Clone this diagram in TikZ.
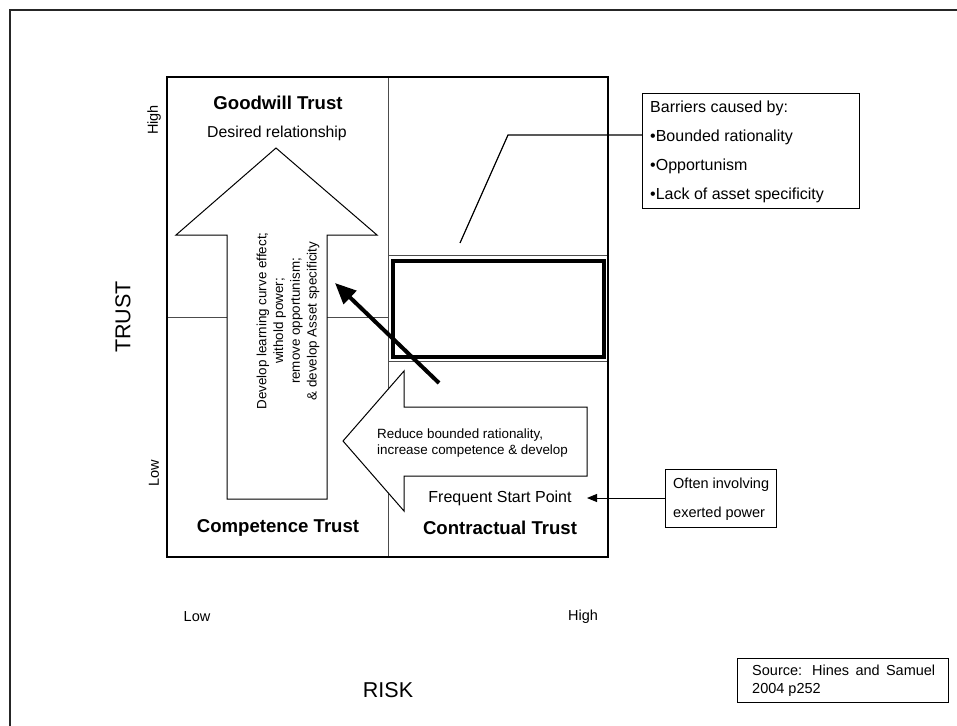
\documentclass[tikz,border=0pt]{standalone}
\usepackage{fontspec}
\setmainfont{Liberation Sans}
\usetikzlibrary{arrows.meta}
\begin{document}
\begin{tikzpicture}[x=1pt,y=-1pt,
  txt/.style={inner sep=0pt},
  small/.style={txt, font=\fontsize{14.5}{17}\selectfont},
  quadtitle/.style={txt, font=\bfseries\fontsize{18.6}{22}\selectfont},
  axislabel/.style={txt, font=\fontsize{21.5}{25}\selectfont},
  advice/.style={txt, font=\fontsize{13.4}{16.7}\selectfont},
  boxed/.style={draw=black, line width=1.1pt, inner sep=0pt},
  bigarrow/.style={draw=black, line width=1pt, fill=white, line join=miter},
  gridline/.style={draw=black!70, line width=1pt},
]
\useasboundingbox (0,0) rectangle (957,725);

% page frame
\draw[line width=2.5pt, black!85] (10,740) -- (10,10) -- (970,10);

% trust / risk matrix
\draw[gridline] (388,77) -- (388,557);
\draw[gridline] (167,317) -- (388,317);
\draw[gridline] (388,255) rectangle (608,361);
\draw[line width=1.3pt] (167,77) rectangle (608,557);
\draw[line width=4pt] (393,261) rectangle (604,357);

% upward block arrow (competence -> goodwill)
\draw[bigarrow] (276,148) -- (377,235) -- (327,235) -- (327,499)
  -- (227,499) -- (227,235) -- (176,235) -- cycle;
% leftward block arrow (contractual -> competence)
\draw[bigarrow] (343,441) -- (404,371) -- (404,407) -- (587,407)
  -- (587,476) -- (404,476) -- (404,511) -- cycle;

% quadrant titles
\node[quadtitle] (goodwill) at (278,103) {Goodwill Trust};
\node[txt, font=\fontsize{15.8}{19}\selectfont] (desired) at (277,133) {Desired relationship};
\node[quadtitle] (competence) at (278,528) {Competence Trust};
\node[quadtitle] (contractual) at (500,528) {Contractual Trust};
\node[txt, font=\fontsize{16}{19}\selectfont] (start) at (500,498) {Frequent Start Point};

% arrow texts
\node[advice, rotate=90, align=center] (develop) at (288,321)
  {Develop learning curve effect;\\withold power;\\remove opportunism;\\\& develop Asset specificity};
\node[advice, align=left, anchor=west] (reduce) at (377,443)
  {Reduce bounded rationality,\\increase competence \& develop};

% axes
\node[axislabel, rotate=90] (trust) at (123,317) {TRUST};
\node[small, rotate=90] (tHigh) at (154,120) {High};
\node[small, rotate=90] (tLow) at (154,473) {Low};
\node[small] (rLow) at (197,617) {Low};
\node[small] (rHigh) at (583,617) {High};
\node[axislabel] (risk) at (388,690) {RISK};

% move towards goodwill trust
\coordinate (pushFrom) at (439,383);
\coordinate (pushTo) at (335,283);
\draw[line width=4pt, -{Triangle[length=21pt,width=18pt]}] (pushFrom) -- (pushTo);

% barriers call-out
\node[boxed, anchor=north west, minimum width=217pt, minimum height=115pt] (barriers) at (642,93) {};
\node[txt, anchor=west, align=left, font=\fontsize{16}{29.2}\selectfont] (barrierText) at (650,152)
  {Barriers caused by:\\\textbullet Bounded rationality\\\textbullet Opportunism\\\textbullet Lack of asset specificity};
\coordinate (barrierFoot) at (460,243);
\coordinate (barrierBend) at (508,135);
\draw[line width=1.2pt] (barrierFoot) -- (barrierBend) -- (barrierBend -| barriers.west);

% power call-out
\node[boxed, anchor=north west, minimum width=111pt, minimum height=58pt] (power) at (665,469) {};
\node[txt, anchor=west, align=left, font=\fontsize{14.5}{29}\selectfont] (powerText) at (673,499)
  {Often involving\\exerted power};
\coordinate (startEdge) at (587,498);
\draw[line width=1pt, -{Triangle[length=10pt,width=8pt]}] (startEdge -| power.west) -- (startEdge);

% source
\node[boxed, line width=1.3pt, anchor=north west, minimum width=211pt, minimum height=44pt] (source) at (737,658) {};
\node[txt, anchor=west, align=left, font=\fontsize{14.5}{18}\selectfont] (sourceText) at (752,681)
  {\makebox[183pt][s]{Source: Hines and Samuel}\\2004 p252};
\end{tikzpicture}
\end{document}
